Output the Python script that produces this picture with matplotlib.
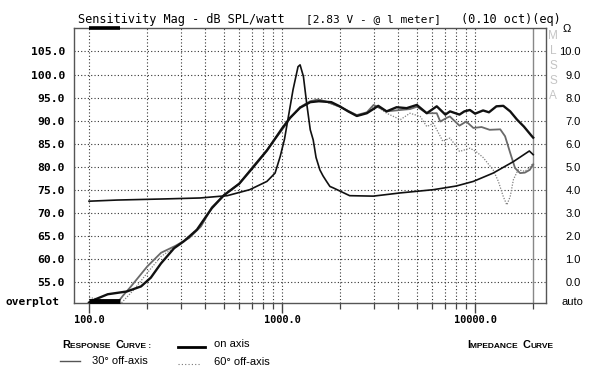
import matplotlib
matplotlib.use("Agg")
import matplotlib.pyplot as plt
import matplotlib.transforms as mtransforms
from matplotlib.ticker import FixedLocator, NullLocator, NullFormatter

# ---------------- data ----------------
freq_on = [100, 105, 125, 157, 186, 209, 236, 276, 310, 362, 433, 500, 600, 700, 835, 1000, 1100,
           1240, 1400, 1550, 1800, 1990, 2200, 2440, 2750, 3150, 3480, 3920, 4420, 4990, 5620,
           6330, 7010, 7420, 8300, 8800, 9400, 10000, 11000, 11800, 12900, 14000, 15200, 16500,
           17900, 19700, 20000]
on_axis = [50.5, 51.0, 52.3, 52.9, 54.0, 55.9, 59.0, 62.3, 63.8, 66.3, 71.0, 73.8, 76.3, 79.6,
           83.5, 88.3, 90.6, 92.8, 94.0, 94.2, 94.0, 93.1, 92.0, 91.0, 91.6, 93.2, 92.0, 92.9,
           92.7, 93.4, 91.6, 93.1, 91.3, 92.0, 91.3, 92.0, 92.3, 91.5, 92.2, 91.8, 93.1, 93.2,
           92.0, 90.2, 88.7, 86.6, 86.3]

freq_30 = [100, 140, 150, 165, 200, 236, 280, 330, 380, 433, 500, 600, 700, 835, 1000, 1100, 1240,
           1400, 1540, 1700, 1990, 2440, 2750, 2980, 3480, 4100, 4600, 5000, 5620, 6330, 6600,
           7130, 7400, 8300, 9000, 9800, 10800, 11900, 13500, 14300, 15200, 16100, 17100, 18100,
           19200, 20000]
off_30 = [50.3, 50.4, 52.0, 54.0, 58.3, 61.3, 62.8, 64.5, 67.0, 71.2, 73.8, 76.3, 79.8, 83.6,
          88.0, 90.5, 92.9, 94.2, 94.6, 94.1, 93.0, 91.2, 91.8, 93.4, 92.0, 92.3, 92.5, 93.0,
          91.6, 91.6, 89.8, 90.6, 90.9, 88.9, 89.8, 88.4, 88.6, 88.0, 88.1, 86.6, 83.0, 79.7,
          78.6, 78.7, 79.3, 80.5]

freq_60 = [100, 110, 125, 147, 171, 200, 236, 280, 330, 380, 433, 500, 600, 700, 835, 1000, 1100,
           1240, 1400, 1540, 1700, 1990, 2440, 2750, 3050, 3480, 4100, 4600, 5200, 5620, 6080,
           6600, 6800, 7400, 8000, 8300, 9400, 10100, 11000, 12400, 13200, 14000, 14600, 15200,
           15800, 16700, 18100, 19100, 20000]
off_60 = [51.6, 51.3, 50.8, 50.4, 53.3, 56.9, 60.5, 62.6, 64.8, 67.2, 71.0, 73.8, 76.3, 79.8,
          83.6, 88.2, 90.6, 93.0, 94.2, 94.4, 94.0, 93.0, 91.0, 91.6, 93.3, 91.6, 90.2, 91.6,
          90.9, 88.7, 89.4, 86.6, 85.5, 86.2, 84.4, 83.3, 84.0, 83.3, 82.0, 79.3, 76.8, 73.5,
          71.7, 73.5, 77.2, 79.3, 79.0, 79.7, 80.8]

freq_imp = [100, 140, 250, 376, 520, 680, 835, 920, 978, 1030, 1080, 1140, 1210, 1240, 1290, 1340,
            1400, 1450, 1500, 1570, 1630, 1700, 1770, 1840, 2240, 2970, 4100, 6080, 8000, 9800,
            12400, 15800, 19100, 20000]
imp_ohm = [3.50, 3.55, 3.60, 3.64, 3.74, 4.00, 4.36, 4.72, 5.44, 6.20, 7.20, 8.34, 9.34, 9.42,
           8.92, 7.78, 6.60, 6.16, 5.40, 4.86, 4.60, 4.36, 4.14, 4.08, 3.74, 3.72, 3.86, 4.00,
           4.16, 4.36, 4.72, 5.22, 5.68, 5.52]

spl_ticks = [55, 60, 65, 70, 75, 80, 85, 90, 95, 100, 105]
ohm_ticks = [0, 1, 2, 3, 4, 5, 6, 7, 8, 9, 10]
freq_major = [100, 1000, 10000]
freq_grid = [100, 200, 300, 400, 500, 600, 700, 800, 900, 1000, 2000, 3000, 4000, 5000, 6000,
             7000, 8000, 9000, 10000]

# ---------------- figure ----------------
W, H = 601, 382
fig = plt.figure(figsize=(W / 100, H / 100), dpi=100)
fig.patch.set_facecolor("white")

L, R, T, B = 74, 546, 28, 303
ax = fig.add_axes([L / W, 1 - B / H, (R - L) / W, (B - T) / H])
ax.set_xscale("log")
xmin, xmax = 83.6, 23300
ymin, ymax = 50.4, 110.1
ax.set_xlim(xmin, xmax)
ax.set_ylim(ymin, ymax)

mono = "DejaVu Sans Mono"
sans = "Liberation Sans"

for s in ax.spines.values():
    s.set_color("#555555")
    s.set_linewidth(1.0)

# grid
for y in spl_ticks:
    ax.axhline(y, color="#333333", lw=0.8, ls=(0, (1, 2)), zorder=1)
for f in freq_grid:
    ax.axvline(f, color="#333333", lw=0.8, ls=(0, (1, 2)), zorder=1)
ax.axvline(20000, color="#888888", lw=1.0, zorder=1)

# ticks
ax.xaxis.set_major_locator(FixedLocator(freq_major))
ax.xaxis.set_minor_locator(FixedLocator([f for f in freq_grid if f not in freq_major] + [20000]))
ax.xaxis.set_minor_formatter(NullFormatter())
ax.set_xticklabels(["100.0", "1000.0", "10000.0"], fontfamily=mono, fontweight="bold", fontsize=7.4)
ax.tick_params(axis="x", which="major", direction="out", length=7, width=1.0, color="#444444", pad=1.5)
ax.tick_params(axis="x", which="minor", direction="out", length=4, width=0.9, color="#444444")

ax.yaxis.set_major_locator(FixedLocator(spl_ticks))
ax.yaxis.set_minor_locator(NullLocator())
ax.set_yticklabels([f"{v:.1f}" for v in spl_ticks], fontfamily=mono, fontweight="bold", fontsize=8.2)
ax.tick_params(axis="y", which="major", length=0, pad=6.5)

# curves
ax.plot(freq_60, off_60, color="#808080", lw=0.9, ls=(0, (1, 1.2)), zorder=3)
ax.plot(freq_30, off_30, color="#6a6a6a", lw=1.3, zorder=4)
ax.plot(freq_on, on_axis, color="#111111", lw=1.7, zorder=5)

ax2 = ax.twinx()
ax2.set_ylim((ymin - 55) / 5, (ymax - 55) / 5)
ax2.set_xlim(xmin, xmax)
ax2.plot(freq_imp, imp_ohm, color="#111111", lw=1.2, zorder=6)
ax2.yaxis.set_major_locator(FixedLocator(ohm_ticks))
ax2.yaxis.set_minor_locator(NullLocator())
ax2.set_yticklabels([f"{v:.1f}" for v in ohm_ticks], fontfamily=sans, fontsize=8.0, ha="right")
ax2.tick_params(axis="y", which="major", length=0, pad=25)
for s in ax2.spines.values():
    s.set_visible(False)

# overplot markers
trans = mtransforms.blended_transform_factory(ax.transData, ax.transAxes)
ax.plot([100, 145], [1.0, 1.0], transform=trans, color="black", lw=2.6, clip_on=False,
        solid_capstyle="butt", zorder=7)
ax.plot([100, 145], [0.008, 0.008], transform=trans, color="black", lw=3.5, clip_on=False,
        solid_capstyle="butt", zorder=7)

# title line
fig.text(78 / W, 1 - 19 / H, "Sensitivity Mag - dB SPL/watt", fontfamily=mono, fontsize=8.6,
         va="center", ha="left")
fig.text(306 / W, 1 - 19 / H, "[2.83 V - @ l meter]", fontfamily=mono, fontsize=8.0,
         va="center", ha="left")
fig.text(461 / W, 1 - 19 / H, "(0.10 oct)(eq)", fontfamily=mono, fontsize=8.6,
         va="center", ha="left")
fig.text(563 / W, 1 - 29 / H, "Ω", fontfamily=sans, fontsize=8.0, va="center", ha="left")

# MLSSA vertical
for i, ch in enumerate("MLSSA"):
    fig.text(553 / W, 1 - (36 + i * 15) / H, ch, fontfamily=sans, fontsize=8.5,
             color="#c4c4c4", va="center", ha="center")

fig.text(6 / W, 1 - 302 / H, "overplot", fontfamily=mono, fontweight="bold", fontsize=8.0,
         va="center", ha="left")
fig.text(562 / W, 1 - 302 / H, "auto", fontfamily=sans, fontsize=8.0, va="center", ha="left")

# legend (small caps headings)
renderer = fig.canvas.get_renderer()


def small_caps(x_px, y_px, pieces):
    x = x_px
    for txt, size in pieces:
        t = fig.text(x / W, 1 - y_px / H, txt, fontfamily=sans, fontweight="bold",
                     fontsize=size, va="baseline", ha="left")
        bb = t.get_window_extent(renderer)
        x = bb.x1 + (2.5 if txt.endswith(" ") else 0)


small_caps(62, 348, [("R", 7.8), ("ESPONSE ", 6.0), ("C", 7.8), ("URVE :", 6.0)])
small_caps(467, 348, [("I", 7.8), ("MPEDANCE ", 6.0), ("C", 7.8), ("URVE", 6.0)])

fig.add_artist(plt.Line2D([60 / W, 80 / W], [1 - 361 / H, 1 - 361 / H], color="#555555", lw=1.0))
fig.text(92 / W, 1 - 361 / H, "30° off-axis", fontfamily=sans, fontsize=8.0, va="center", ha="left")
fig.add_artist(plt.Line2D([178 / W, 205 / W], [1 - 347 / H, 1 - 347 / H], color="black", lw=2.0))
fig.text(214 / W, 1 - 344 / H, "on axis", fontfamily=sans, fontsize=8.0, va="center", ha="left")
fig.add_artist(plt.Line2D([178 / W, 201 / W], [1 - 364 / H, 1 - 364 / H], color="#777777", lw=0.8,
                          ls=(0, (1, 2))))
fig.text(214 / W, 1 - 362 / H, "60° off-axis", fontfamily=sans, fontsize=8.0, va="center", ha="left")

fig.savefig("out.png", dpi=100, facecolor="white")
